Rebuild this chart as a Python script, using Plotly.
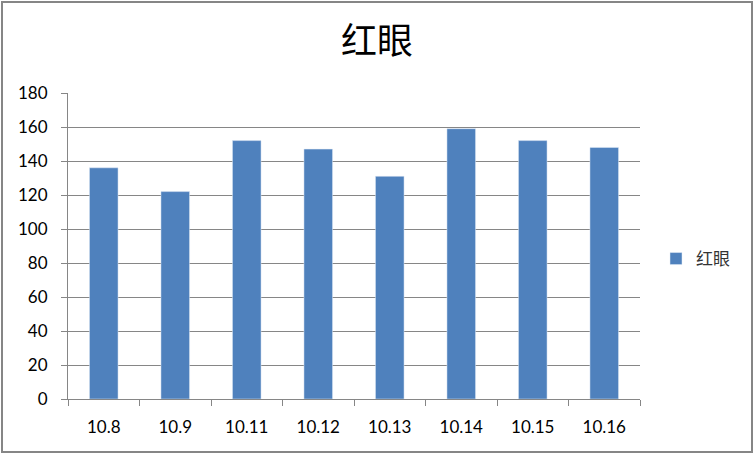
import plotly.graph_objects as go

# dates and counts for the "红眼" series
dates = ["10.8", "10.9", "10.11", "10.12", "10.13", "10.14", "10.15", "10.16"]
counts = [136, 122, 152, 147, 131, 159, 152, 148]
y_ticks = [0, 20, 40, 60, 80, 100, 120, 140, 160, 180]

bar_color = "#4F81BD"
grid_color = "#868686"
cjk = "Noto Sans CJK SC"

fig = go.Figure()
fig.add_trace(go.Bar(x=dates, y=counts, name="红眼", marker_color=bar_color))

W, H = 754, 454
L, R, T, B = 68, 114, 93, 55
pw, ph = W - L - R, H - T - B

fig.update_layout(
    width=W, height=H,
    margin=dict(l=L, r=R, t=T, b=B),
    paper_bgcolor="white",
    plot_bgcolor="white",
    bargap=0.6,
    font=dict(family="Lato, " + cjk, size=17, color="black"),
    title=dict(text="红眼", x=0.5, xanchor="center", y=1 - 41 / H, yanchor="middle",
               font=dict(family=cjk, size=36, color="black")),
    showlegend=True,
    legend=dict(x=(656 - L) / pw, xanchor="left", y=(399 - 259) / ph, yanchor="middle",
                font=dict(family=cjk, size=17, color="#333333"),
                itemwidth=30, bgcolor="rgba(0,0,0,0)"),
)

fig.update_xaxes(
    showline=True, linecolor=grid_color, linewidth=1,
    ticks="outside", tickson="boundaries", ticklen=6, tickcolor=grid_color,
    showgrid=False, ticklabelstandoff=13,
)
fig.update_yaxes(
    range=[0, 180], tickvals=y_ticks,
    showline=True, linecolor=grid_color, linewidth=1,
    ticks="outside", ticklen=6, tickcolor=grid_color,
    showgrid=True, gridcolor=grid_color, gridwidth=1,
    zeroline=False, ticklabelstandoff=10,
)

# outer chart border
fig.add_shape(type="rect", xref="paper", yref="paper",
              x0=(2 - L) / pw, x1=(752 - L) / pw,
              y0=-(452 - (H - B)) / ph, y1=(H - B - 2) / ph,
              line=dict(color=grid_color, width=2), fillcolor="rgba(0,0,0,0)")

fig.write_html("out.html", config={"displayModeBar": False},
               post_script="document.body.style.margin='0';")
